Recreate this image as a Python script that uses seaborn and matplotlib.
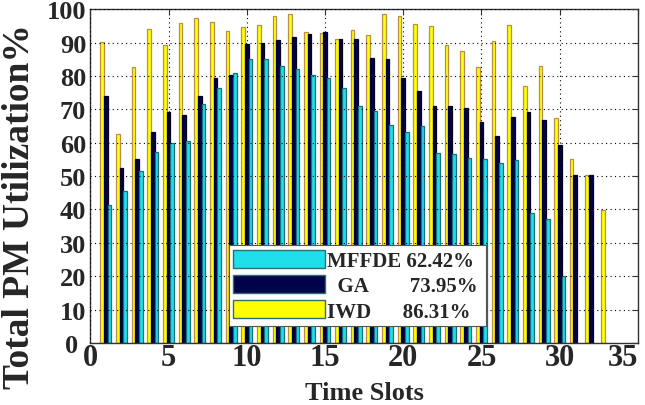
import numpy as np
import pandas as pd
import seaborn as sns
import matplotlib.pyplot as plt
import matplotlib.transforms as mtransforms
from matplotlib.patches import Patch

# Utilization (%) of the physical machines per time slot for each algorithm
slots = list(range(1, 34))
iwd = [90.2, 62.6, 82.8, 94.2, 89.3, 95.8, 97.2, 96.2, 93.5, 94.8,
       95.2, 97.8, 98.4, 93.2, 92.8, 91.2, 93.8, 92.3, 98.4, 97.9,
       95.5, 94.9, 89.3, 87.4, 82.8, 90.6, 95.3, 77.1, 83.0, 67.3,
       55.0, 50.2, 39.9]
ga = [73.9, 52.5, 55.1, 63.3, 69.2, 68.3, 73.9, 79.5, 80.4, 89.6,
      90.0, 90.9, 91.6, 92.6, 93.3, 91.2, 91.2, 85.4, 85.1, 79.4,
      75.5, 70.9, 70.9, 70.3, 66.2, 62.1, 67.6, 69.2, 66.7, 59.4,
      50.2, 50.2]
mffde = [41.2, 45.6, 51.5, 57.1, 59.8, 60.4, 71.6, 76.3, 80.8, 85.0,
         85.0, 83.1, 82.1, 80.4, 79.3, 76.4, 71.1, 69.4, 65.2, 63.3,
         64.9, 57.0, 56.7, 55.4, 55.0, 53.8, 54.8, 38.9, 37.1, 19.9]

algorithms = ["IWD", "GA", "MFFDE"]
legend_order = ["MFFDE", "GA", "IWD"]
legend_labels = {"MFFDE": "MFFDE 62.42%",
                 "GA": "  GA        73.95%",
                 "IWD": "IWD      86.31%"}
fill_colors = {"IWD": "#ffff00", "GA": "#02024a", "MFFDE": "#1ee0ea"}
edge_colors = {"IWD": "#b8904a", "GA": "#000020", "MFFDE": "#1b6f7a"}

rows = []
for name, vals in zip(algorithms, [iwd, ga, mffde]):
    for s, v in zip(slots, vals):
        rows.append({"slot": s, "util": v, "alg": name})
df = pd.DataFrame(rows)

sns.set_theme(style="white")
plt.rcParams["font.family"] = ["Liberation Serif", "DejaVu Serif"]
plt.rcParams["font.weight"] = "bold"

fig = plt.figure(figsize=(6.45, 4.06), dpi=100)
ax = fig.add_axes([0.14, 0.153, 0.849, 0.822])

sns.barplot(data=df, x="slot", y="util", hue="alg", hue_order=algorithms,
            palette=fill_colors, native_scale=True, width=0.7, dodge=True,
            errorbar=None, legend=False, ax=ax, linewidth=0.9, saturation=1)

for name, cont in zip(algorithms, ax.containers):
    for bar in cont:
        bar.set_edgecolor(edge_colors[name])
        bar.set_linewidth(0.9)

ax.set_xlim(0, 35)
ax.set_ylim(0, 100)
ax.set_xticks(range(0, 36, 5))
ax.set_yticks(range(0, 101, 10))
ax.grid(True, color="black", linestyle=(0, (1, 3)), linewidth=0.8)
ax.set_axisbelow(False)
for sp in ax.spines.values():
    sp.set_color("#333333")
    sp.set_linewidth(1.0)
ax.tick_params(direction="in", top=True, right=True, length=4,
               color="#333333", width=0.8)
ax.tick_params(axis="x", labelsize=22, pad=0)
ax.tick_params(axis="y", labelsize=19, pad=3)
for lab in ax.get_xticklabels() + ax.get_yticklabels():
    lab.set_fontweight("bold")
ax.get_xticklabels()[-1].set_horizontalalignment("right")

# nudge the y-axis "0" left so it sits beside the x-axis "0"
ylab0 = ax.get_yticklabels()[0]
ylab0.set_transform(ylab0.get_transform() +
                    mtransforms.ScaledTranslation(-6 / 72, 0, fig.dpi_scale_trans))

ax.set_xlabel("Time Slots", fontsize=19, fontweight="bold")
ax.xaxis.set_label_coords(0.5, -0.115)
ax.set_ylabel("Total PM Utilization%", fontsize=27, fontweight="bold")
ax.yaxis.set_label_coords(-0.098, 0.41)

handles = [Patch(facecolor=fill_colors[a], edgecolor="#2a7070", linewidth=1.0)
           for a in legend_order]
leg = ax.legend(handles, [legend_labels[a] for a in legend_order],
                loc="lower left", bbox_to_anchor=(0.253, 0.05, 0.47, 0.24),
                mode="expand", borderaxespad=0, handlelength=4.4,
                handleheight=0.95, handletextpad=0.1, labelspacing=0.2,
                borderpad=0.22, frameon=True, fancybox=False, framealpha=1,
                edgecolor="#555555", prop={"weight": "bold", "size": 15})
leg.get_frame().set_linewidth(0.8)

fig.savefig("out.png", dpi=100)
